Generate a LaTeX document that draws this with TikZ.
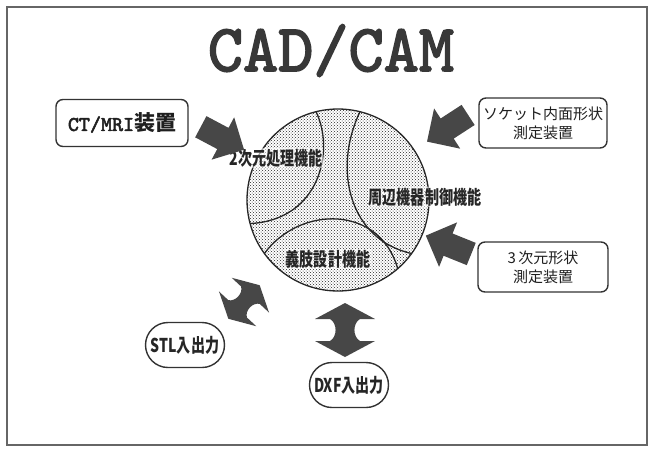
\documentclass[tikz,border=0pt]{standalone}
\usepackage{fontspec}
\usepackage{graphicx}
\usetikzlibrary{shapes.misc,patterns}
\newfontfamily\jpfont{Noto Sans CJK JP}
\newfontfamily\cadmono[FakeBold=2.5]{lmmono10-regular.otf}
\newcommand{\narrow}[1]{\scalebox{0.74}[1]{#1}}
\newcommand{\funclabel}[4]{\node[funcnode] (#1) at (#2,#3) {\narrow{#4}};}
\newcommand{\fatarrow}[3]{\fill[arrowfill, shift={(#1,#2)}, rotate=#3] (-24,-12) -- (1,-12) -- (1,-24) -- (25,0) -- (1,24) -- (1,12) -- (-24,12) -- cycle;}
\newcommand{\ioarrow}[4]{\fill[arrowfill, shift={(#1,#2)}, rotate=#3, scale=#4] (-27,0) -- (-11,-30) -- (-11,-15) to[bend right=60] (11,-15) -- (11,-30) -- (27,0) -- (11,30) -- (11,15) to[bend right=60] (-11,15) -- (-11,30) -- cycle;}
\tikzset{
  devbox/.style={draw=black!80, line width=1.4pt, rounded corners=7pt, fill=white, align=center, inner sep=0pt, text=black!88},
  iobox/.style={rounded rectangle, draw=black!80, line width=1.4pt, fill=white, inner sep=0pt, minimum width=79pt, minimum height=45pt, text=black!85, font=\jpfont\bfseries\fontsize{19}{19}\selectfont},
  arrowfill/.style={fill=black!72},
  funcnode/.style={inner sep=1pt, fill=white, fill opacity=0.55, text opacity=1, text=black!85, font=\jpfont\bfseries\fontsize{19}{19}\selectfont},
  funcline/.style={draw=black!85, line width=1.3pt}
}

\begin{document}
\begin{tikzpicture}[x=1pt, y=-1pt]
  \useasboundingbox (0,0) rectangle (648,448);
  % frame
  \draw[black!60, line width=1.2pt] (7,7) rectangle (647,445);

  % title
  \node[anchor=base, inner sep=0pt, text=black!78, font=\cadmono\fontsize{67}{67}\selectfont] (cad) at (331,71) {CAD/CAM};

  % core circle
  \node[circle, draw=black!85, line width=1.3pt, inner sep=0pt, outer sep=0pt, minimum size=182pt, pattern=crosshatch dots, pattern color=black!85] (core) at (338,200) {};
  \draw[funcline] (core.104.5) .. controls (335,150) and (320,220) .. (core.195.5);
  \draw[funcline] (core.76) .. controls (332,170) and (350,240) .. (core.-36);
  \draw[funcline] (core.216) .. controls (300,205) and (380,205) .. (core.-49);

  % labels on the circle
  \funclabel{f2d}{276}{158}{2次元処理機能}
  \funclabel{fdev}{425}{197}{周辺機器制御機能}
  \funclabel{fdes}{328}{259}{義肢設計機能}

  % input devices
  \node[devbox, minimum width=132pt, minimum height=47pt, font=\fontsize{21}{21}\selectfont] (ct) at (122,123) {\cadmono CT/MRI\jpfont\bfseries 装置};
  \node[devbox, minimum width=128pt, minimum height=50pt, font=\jpfont\fontsize{15}{19}\selectfont] (sock) at (543,123) {ソケット内面形状\\測定装置};
  \node[devbox, minimum width=130pt, minimum height=50pt, font=\jpfont\fontsize{15}{19}\selectfont] (scan) at (543,267) {3\,次元形状\\測定装置};

  % file in/out
  \node[iobox] (stl) at (185,345) {\narrow{STL入出力}};
  \node[iobox] (dxf) at (349,385) {\narrow{DXF入出力}};

  % arrows
  \fatarrow{222}{138}{-28}
  \fatarrow{448}{128}{213}
  \fatarrow{449}{245}{158}
  \ioarrow{244}{302}{47}{0.85}
  \ioarrow{345}{330}{90}{1}
\end{tikzpicture}
\end{document}
